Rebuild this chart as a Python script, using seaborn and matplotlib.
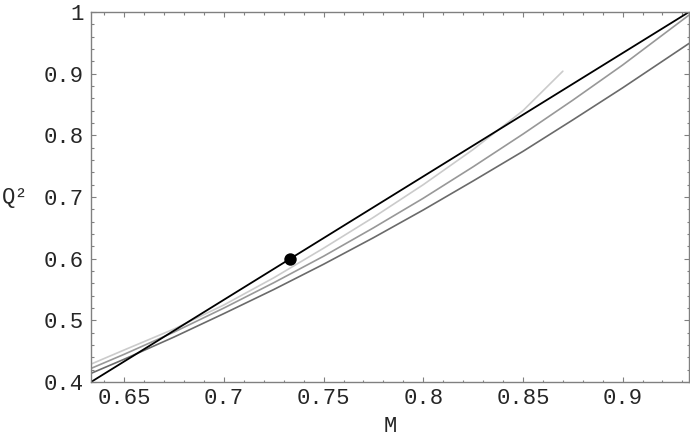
import matplotlib
matplotlib.use("Agg")
import matplotlib.pyplot as plt
from matplotlib.ticker import FixedLocator, MultipleLocator
import seaborn as sns
import pandas as pd

# ---- data ----
black_M = [0.6333, 0.9333]
black_Q2 = [0.400, 1.000]

light_M = [0.6333, 0.650, 0.675, 0.700, 0.725, 0.750, 0.775, 0.800, 0.825, 0.850, 0.870]
light_Q2 = [0.429, 0.452, 0.486, 0.525, 0.569, 0.617, 0.667, 0.720, 0.777, 0.840, 0.904]

medium_M = [0.6333, 0.650, 0.675, 0.700, 0.725, 0.750, 0.775, 0.800, 0.825, 0.850, 0.875, 0.900, 0.9333]
medium_Q2 = [0.422, 0.445, 0.481, 0.520, 0.561, 0.604, 0.650, 0.698, 0.749, 0.802, 0.857, 0.914, 0.995]

dark_M = [0.6333, 0.650, 0.675, 0.700, 0.725, 0.750, 0.775, 0.800, 0.825, 0.850, 0.875, 0.900, 0.9333]
dark_Q2 = [0.414, 0.437, 0.473, 0.511, 0.550, 0.591, 0.634, 0.679, 0.726, 0.774, 0.825, 0.877, 0.949]

point_M = [0.7333]
point_Q2 = [0.600]

x_ticks = [0.65, 0.70, 0.75, 0.80, 0.85, 0.90]
x_labels = ["0.65", "0.7", "0.75", "0.8", "0.85", "0.9"]
y_ticks = [0.4, 0.5, 0.6, 0.7, 0.8, 0.9, 1.0]
y_labels = ["0.4", "0.5", "0.6", "0.7", "0.8", "0.9", "1"]

# ---- style ----
sns.set_style("white")
plt.rcParams['font.family'] = ['Liberation Mono', 'DejaVu Sans Mono']

fig = plt.figure(figsize=(6.9, 4.41), dpi=100)
ax = fig.add_axes([91/690, 59/441, 598/690, 370/441])

frame_col = "#808080"
for M, Q, col in [(light_M, light_Q2, "#cbcbcb"),
                  (medium_M, medium_Q2, "#989898"),
                  (dark_M, dark_Q2, "#6a6a6a")]:
    df = pd.DataFrame({"M": M, "Q2": Q})
    sns.lineplot(data=df, x="M", y="Q2", ax=ax, color=col, linewidth=1.2,
                 sort=True, estimator=None)

df_b = pd.DataFrame({"M": black_M, "Q2": black_Q2})
sns.lineplot(data=df_b, x="M", y="Q2", ax=ax, color="black", linewidth=1.3,
             estimator=None)

df_p = pd.DataFrame({"M": point_M, "Q2": point_Q2})
sns.scatterplot(data=df_p, x="M", y="Q2", ax=ax, color="black", s=80,
                edgecolor="black", linewidth=0, zorder=5)

ax.set_xlim(0.6333, 0.9333)
ax.set_ylim(0.4, 1.0)

ax.xaxis.set_major_locator(FixedLocator(x_ticks))
ax.set_xticklabels(x_labels)
ax.xaxis.set_minor_locator(MultipleLocator(0.01))
ax.yaxis.set_major_locator(FixedLocator(y_ticks))
ax.set_yticklabels(y_labels)
ax.yaxis.set_minor_locator(MultipleLocator(0.02))

ax.tick_params(which="both", direction="in", top=True, right=True,
               bottom=True, left=True, color=frame_col, width=0.8)
ax.tick_params(which="major", length=3.5, labelsize=16, pad=5)
ax.tick_params(which="minor", length=1.8)
ax.tick_params(axis="x", which="major", pad=4)

for sp in ax.spines.values():
    sp.set_color(frame_col)
    sp.set_linewidth(1.0)

ax.set_xlabel("M", fontsize=16, va="center")
ax.set_ylabel("Q²", fontsize=16, rotation=0, ha="center", va="center")
ax.xaxis.set_label_coords(0.5, -0.1216)
ax.yaxis.set_label_coords(-0.126, 0.5)

fig.savefig("out.png", dpi=100)
